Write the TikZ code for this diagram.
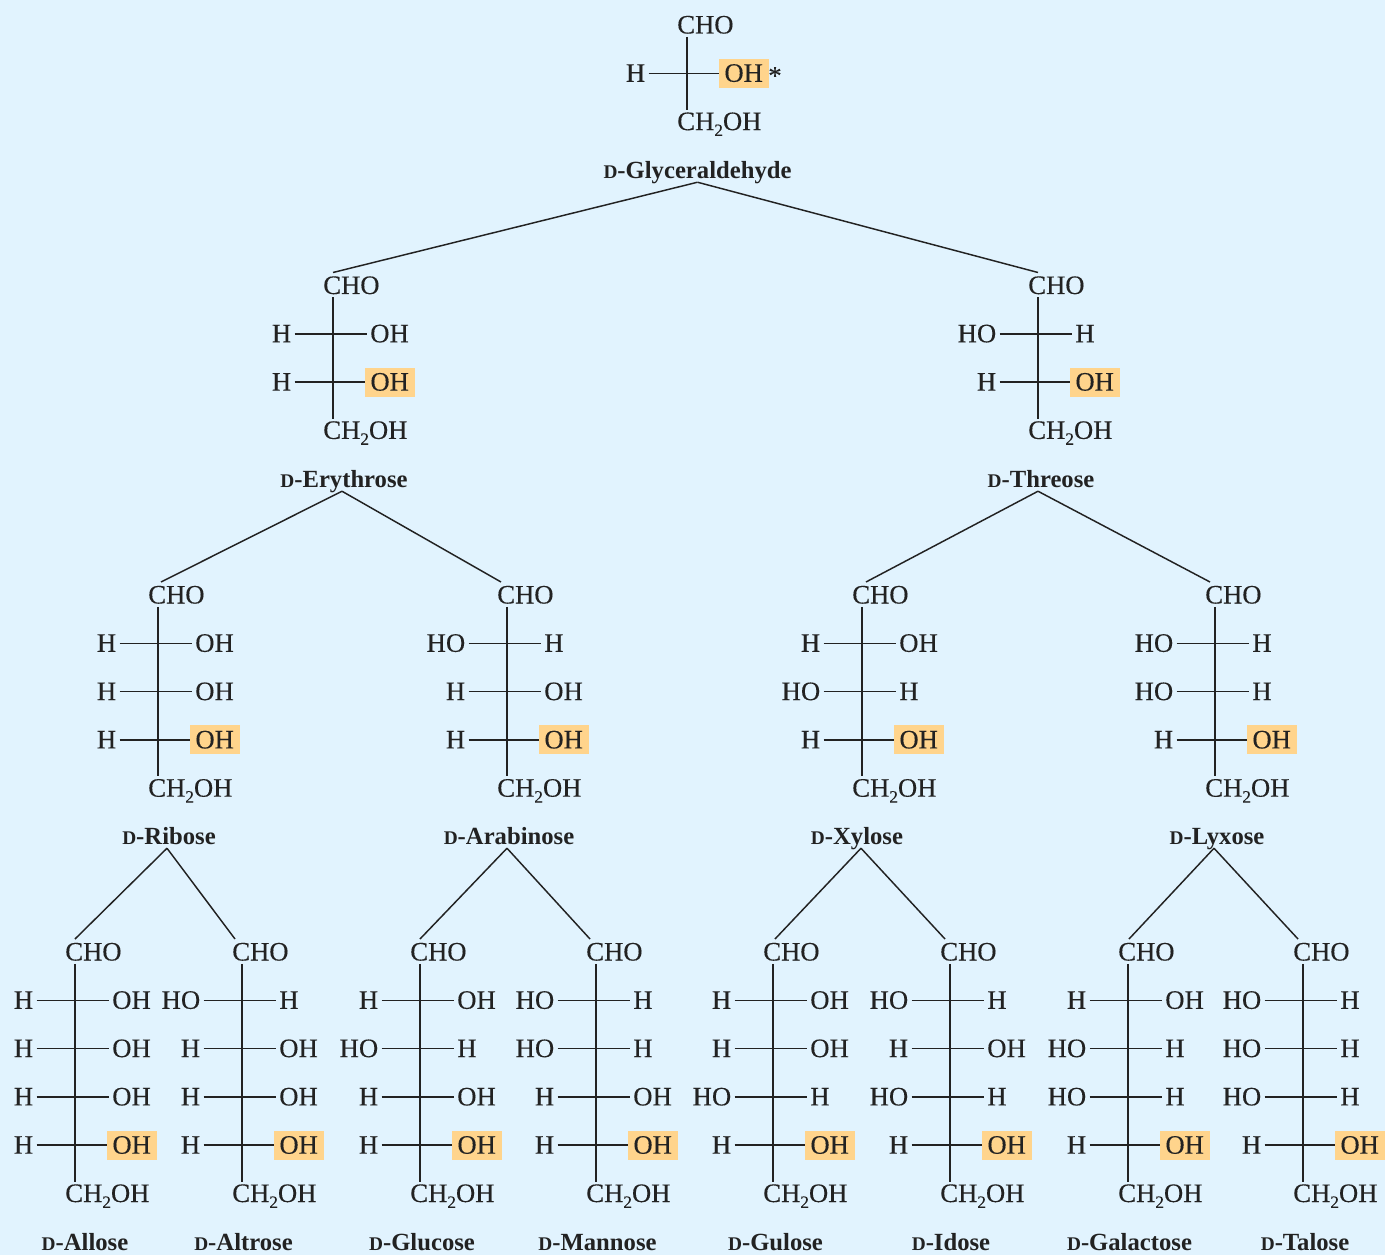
\documentclass[tikz,border=0pt]{standalone}
\usepackage{fontspec}
\setmainfont{Liberation Serif}
\newfontfamily\atomfont{Liberation Serif}[FakeBold=0.25]
\definecolor{paneblue}{HTML}{E1F3FE}
\definecolor{oxorange}{HTML}{FFD48C}
\definecolor{inkdark}{HTML}{222222}
\tikzset{
  atom/.style={inner sep=2.25pt, text height=12.75pt, text depth=0pt, text=inkdark,
    font=\atomfont\fontsize{20}{20}\selectfont},
  hilite/.style={atom, fill=oxorange, inner xsep=4.25pt, inner ysep=4.5pt},
  sugarname/.style={inner sep=0pt, anchor=base, text depth=2.6pt, text=inkdark,
    font=\bfseries\fontsize{18.5}{18.5}\selectfont},
  bond/.style={draw=inkdark, line width=1.1pt}
}
\newcommand{\chtwooh}{CH\raisebox{-0.22em}{\fontsize{13}{13}\selectfont 2}OH}
\newcommand{\dform}[1]{{\fontsize{14.5}{14.5}\selectfont D}-#1}
\newcommand{\drawfischer}[5]{
  \coordinate (#1) at (#2, #3);
  \coordinate (#1-top) at (#2, #3 - 13);
  \node[atom, anchor=west] (#1-cho) at (#2 - 13, #3) {CHO};
  \node[atom, anchor=west] (#1-end) at (#2 - 13, #3 + 48.3 * #4 + 48.3) {\chtwooh};
  \draw[bond] (#1 |- #1-cho.south) -- (#1 |- #1-end.north);
  \foreach \l/\r [count=\n] in {#5}{
    \node[atom, anchor=east] (#1-l\n) at (#2 - 38.5, #3 + 48.3 * \n) {\l};
    \ifnum\n=#4
      \node[hilite, anchor=west] (#1-r\n) at (#2 + 31.5, #3 + 48.3 * \n) {\r};
    \else
      \node[atom, anchor=west] (#1-r\n) at (#2 + 34, #3 + 48.3 * \n) {\r};
    \fi
    \draw[bond] (#1-l\n.east) -- (#1-r\n.west);
  }
}
\newcommand{\drawsugar}[3]{
  \node[sugarname] (#1-name) at (#2, #3 + 7.5) {\dform{#1}};
}

\begin{document}
\begin{tikzpicture}[x=0.75pt, y=-0.75pt]
  \useasboundingbox (0, 0) rectangle (1385, 1255);
  \fill[paneblue] (0, 0) rectangle (1385, 1255);

  \drawfischer{Glyceraldehyde}{687}{25}{1}{H/OH}
  \node[atom, anchor=center] (star) at (775, 76) {*};
  \drawfischer{Erythrose}{333}{285.5}{2}{H/OH, H/OH}
  \drawfischer{Threose}{1038}{285.5}{2}{HO/H, H/OH}

  \drawfischer{Ribose}{158}{595}{3}{H/OH, H/OH, H/OH}
  \drawfischer{Arabinose}{507}{595}{3}{HO/H, H/OH, H/OH}
  \drawfischer{Xylose}{862}{595}{3}{H/OH, HO/H, H/OH}
  \drawfischer{Lyxose}{1215}{595}{3}{HO/H, HO/H, H/OH}

  \drawfischer{Allose}{75}{952}{4}{H/OH, H/OH, H/OH, H/OH}
  \drawfischer{Altrose}{242}{952}{4}{HO/H, H/OH, H/OH, H/OH}
  \drawfischer{Glucose}{420}{952}{4}{H/OH, HO/H, H/OH, H/OH}
  \drawfischer{Mannose}{596}{952}{4}{HO/H, HO/H, H/OH, H/OH}
  \drawfischer{Gulose}{773}{952}{4}{H/OH, H/OH, HO/H, H/OH}
  \drawfischer{Idose}{950}{952}{4}{HO/H, H/OH, HO/H, H/OH}
  \drawfischer{Galactose}{1128}{952}{4}{H/OH, HO/H, HO/H, H/OH}
  \drawfischer{Talose}{1303}{952}{4}{HO/H, HO/H, HO/H, H/OH}

  \foreach \name/\x/\y in {Glyceraldehyde/697.5/171, Erythrose/344/480, Threose/1041/480,
      Ribose/169/837, Arabinose/509/837, Xylose/857/837, Lyxose/1217/837,
      Allose/85/1243, Altrose/243.5/1243, Glucose/422/1243, Mannose/597.5/1243,
      Gulose/775.5/1243, Idose/951/1243, Galactose/1129.5/1243, Talose/1305/1243}{
    \drawsugar{\name}{\x}{\y}
  }

  \foreach \from/\dx/\to/\dy in {Glyceraldehyde/0/Erythrose/0, Glyceraldehyde/0/Threose/0,
      Erythrose/-2/Ribose/3, Erythrose/-2/Arabinose/-6,
      Threose/-3/Xylose/4, Threose/-3/Lyxose/-5,
      Ribose/-2/Allose/0, Ribose/-2/Altrose/-7,
      Arabinose/-2/Glucose/0, Arabinose/-2/Mannose/-6,
      Xylose/4/Gulose/2, Xylose/4/Idose/-5,
      Lyxose/-3/Galactose/1, Lyxose/-3/Talose/-5}
    \draw[bond] ([xshift=\dx*0.75pt]\from-name.south) -- ([xshift=\dy*0.75pt]\to-top);
\end{tikzpicture}
\end{document}
